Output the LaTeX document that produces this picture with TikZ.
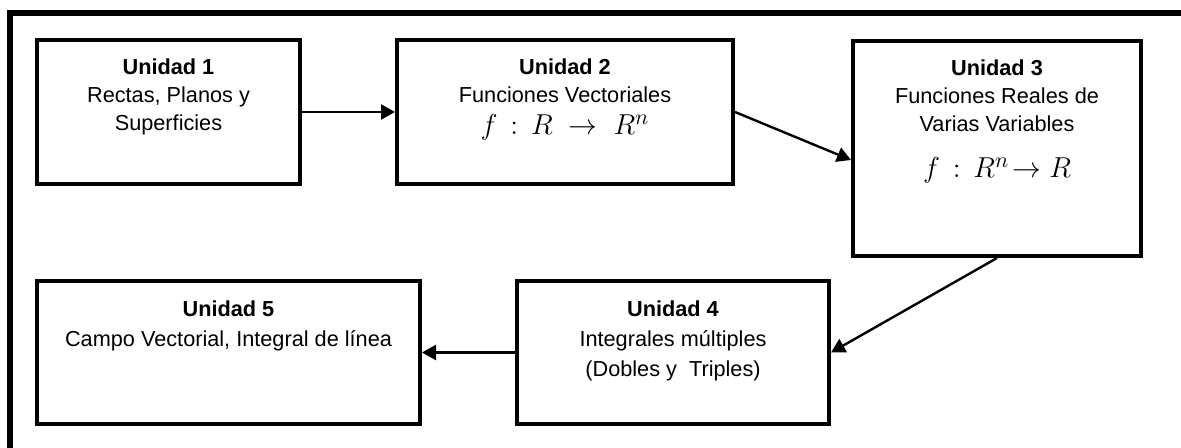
\documentclass[tikz,border=0pt]{standalone}
\usepackage{fontspec}
\setmainfont{Liberation Sans}
\usepackage{amsmath,amssymb}
\usetikzlibrary{arrows.meta}

% box contents: width, height, text (top aligned)
\newcommand{\unidadtext}[3]{\parbox[c][#2][t]{#1}{\centering\rule{0pt}{17.5pt}#3}}
\newcommand{\formula}[1]{{\fontsize{15}{14}\selectfont$#1$}}

\begin{document}
\begin{tikzpicture}[x=0.5pt,y=-0.5pt,
    font=\fontsize{10.85}{14}\selectfont,
    unidad/.style={draw, line width=2pt, inner sep=0pt},
    flecha/.style={line width=1.2pt, -{Triangle[length=7pt,width=7.5pt]}}]
 	\useasboundingbox (0,0) rectangle (1181,448);
 	\draw[line width=3pt] (9.5,448) |- (1181,13.5);

 	\node (u1)[unidad] at (168.5,112)
 	{\unidadtext{131.5pt}{72pt}{\textbf{Unidad 1}\\ Rectas, Planos y\\ Superficies}};
 	\node (u2)[unidad] at (565,112)
 	{\unidadtext{168pt}{72pt}{\textbf{Unidad 2}\\ Funciones Vectoriales\\[2pt]
 	\formula{f\,:\,R \;\rightarrow\; R^{n}}}};
 	\node (u3)[unidad] at (997,148.5)
 	{\unidadtext{144pt}{107.5pt}{\textbf{Unidad 3}\\ Funciones Reales de\\ Varias Variables\\[9pt]
 	\formula{f\,:\,R^{n}\!\rightarrow R}}};
 	\node (u4)[unidad] at (673,352.5)
 	{\unidadtext{156pt}{71.5pt}{\textbf{Unidad 4}\\[1pt] Integrales múltiples\\[1pt] (Dobles y\ \ Triples)}};
 	\node (u5)[unidad] at (228.5,352.5)
 	{\unidadtext{191.5pt}{71.5pt}{\textbf{Unidad 5}\\[1pt] Campo Vectorial, Integral de línea}};

 	\draw[flecha] (u1.east) -- (u2.west);
 	\draw[flecha] (u2.east) -- ([yshift=-5.75pt]u3.west);
 	\draw[flecha] (u3.south) -- (u4.east);
 	\draw[flecha] (u4.west) -- (u5.east);
 \end{tikzpicture}
\end{document}
